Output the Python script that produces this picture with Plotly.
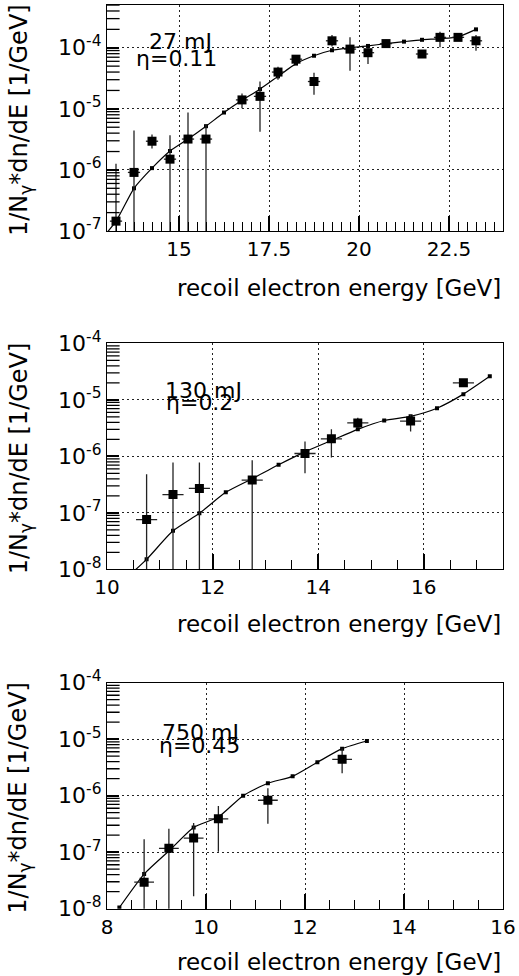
import math
import plotly.graph_objects as go

FONT = "DejaVu Sans"

# ---------------- Panel 1 : 27 mJ, eta = 0.11 ----------------
p1_energy = [13.25, 13.75, 14.25, 14.75, 15.25, 15.75, 16.75, 17.25, 17.75, 18.25,
             18.75, 19.25, 19.75, 20.25, 20.75, 21.75, 22.25, 22.75, 23.25]
p1_value = [1.45e-7, 9.1e-7, 2.95e-6, 1.5e-6, 3.2e-6, 3.2e-6, 1.4e-5, 1.6e-5, 4.0e-5, 6.5e-5,
            2.8e-5, 1.3e-4, 9.5e-5, 8.3e-5, 1.17e-4, 7.9e-5, 1.48e-4, 1.48e-4, 1.3e-4]
p1_high = [1.26e-6, 4.4e-6, 3.8e-6, 3.7e-6, 8.7e-6, 5.6e-6, 1.78e-5, 2.8e-5, 4.9e-5, 7.6e-5,
           3.9e-5, 1.62e-4, 1.48e-4, 9.8e-5, 1.35e-4, 8.9e-5, 1.82e-4, 1.62e-4, 1.62e-4]
p1_low = [1e-8, 1e-8, 2.24e-6, 1e-8, 1e-8, 1e-8, 1.02e-5, 4.2e-6, 3.0e-5, 5.5e-5,
          1.7e-5, 1.05e-4, 4.2e-5, 5.4e-5, 1.0e-4, 7.6e-5, 1.02e-4, 1.35e-4, 8.9e-5]
p1_curve_e = [12.75, 13.25, 13.75, 14.25, 14.75, 15.25, 15.75, 16.25, 16.75, 17.25, 17.75,
              18.25, 18.75, 19.25, 19.75, 20.25, 20.75, 21.25, 21.75, 22.25, 22.75, 23.25]
p1_curve_v = [6.3e-8, 1.45e-7, 5.0e-7, 1.07e-6, 2.04e-6, 3.2e-6, 5.2e-6, 8.7e-6, 1.38e-5, 2.1e-5, 3.4e-5,
              5.5e-5, 7.4e-5, 9.1e-5, 1.0e-4, 1.07e-4, 1.17e-4, 1.26e-4, 1.35e-4, 1.41e-4, 1.51e-4, 2.0e-4]

# ---------------- Panel 2 : 130 mJ, eta = 0.2 ----------------
p2_energy = [10.75, 11.25, 11.75, 12.75, 13.75, 14.25, 14.75, 15.75, 16.75]
p2_value = [7.6e-8, 2.1e-7, 2.7e-7, 3.8e-7, 1.12e-6, 2.04e-6, 3.9e-6, 4.2e-6, 2.0e-5]
p2_high = [4.8e-7, 7.8e-7, 7.8e-7, 8.5e-7, 1.82e-6, 3.0e-6, 4.8e-6, 5.4e-6, 2.24e-5]
p2_low = [1e-9, 1e-9, 1e-9, 1e-9, 5.0e-7, 9.5e-7, 3.2e-6, 2.75e-6, 1.74e-5]
p2_curve_e = [10.25, 10.75, 11.25, 11.75, 12.25, 12.75, 13.25, 13.75, 14.25, 14.75,
              15.25, 15.75, 16.25, 16.75, 17.25]
p2_curve_v = [5.6e-9, 1.5e-8, 4.8e-8, 9.8e-8, 2.3e-7, 4.0e-7, 7.1e-7, 1.2e-6, 1.9e-6, 3.0e-6,
              4.3e-6, 5.1e-6, 7.1e-6, 1.26e-5, 2.6e-5]

# ---------------- Panel 3 : 750 mJ, eta = 0.45 ----------------
p3_energy = [8.75, 9.25, 9.75, 10.25, 11.25, 12.75]
p3_value = [2.95e-8, 1.17e-7, 1.78e-7, 3.9e-7, 8.3e-7, 4.4e-6]
p3_high = [1.7e-7, 2.6e-7, 3.3e-7, 6.6e-7, 1.35e-6, 6.9e-6]
p3_low = [1e-9, 1e-9, 1.66e-8, 1.02e-7, 3.2e-7, 2.5e-6]
p3_curve_e = [8.25, 8.75, 9.25, 9.75, 10.25, 10.75, 11.25, 11.75, 12.25, 12.75, 13.25]
p3_curve_v = [1.05e-8, 4.1e-8, 1.05e-7, 2.75e-7, 4.2e-7, 1.0e-6, 1.66e-6, 2.2e-6, 3.9e-6, 6.8e-6, 9.3e-6]

# labels
energy_labels = ["27 mJ", "130 mJ", "750 mJ"]
eta_labels = ["\u03b7=0.11", "\u03b7=0.2", "\u03b7=0.45"]
x_title = "recoil electron energy [GeV]"
y_title = "1/N<sub>\u03b3</sub>*dn/dE [1/GeV]"

p1_yticks = [1e-7, 1e-6, 1e-5, 1e-4]
p1_yticktext = ["10<sup>-7</sup>", "10<sup>-6</sup>", "10<sup>-5</sup>", "10<sup>-4</sup>"]
p23_yticks = [1e-8, 1e-7, 1e-6, 1e-5, 1e-4]
p23_yticktext = ["10<sup>-8</sup>", "10<sup>-7</sup>", "10<sup>-6</sup>", "10<sup>-5</sup>", "10<sup>-4</sup>"]
minor_digits = [2, 3, 4, 5, 6, 7, 8, 9]

W, H = 519, 976
L, R = 107, 16

panels = [
    dict(e=p1_energy, v=p1_value, hi=p1_high, lo=p1_low, ce=p1_curve_e, cv=p1_curve_v,
         xr=[13, 24], yr=[-7, -3.3], dtick=2.5, mdtick=0.25, ex=0.17,
         top=5, bot=231, yt=p1_yticks, ytt=p1_yticktext, minor_dec=range(-7, -3),
         lab=(15.03, 10**-3.90, 14.94, 10**-4.17), xtitle_y=288),
    dict(e=p2_energy, v=p2_value, hi=p2_high, lo=p2_low, ce=p2_curve_e, cv=p2_curve_v,
         xr=[10, 17.5], yr=[-8, -4], dtick=2, mdtick=0.5, ex=0.2,
         top=343.3, bot=569.3, yt=p23_yticks, ytt=p23_yticktext, minor_dec=range(-8, -4),
         lab=(11.82, 10**-4.83, 11.76, 10**-5.05), xtitle_y=624),
    dict(e=p3_energy, v=p3_value, hi=p3_high, lo=p3_low, ce=p3_curve_e, cv=p3_curve_v,
         xr=[8, 16], yr=[-8, -4], dtick=2, mdtick=0.5, ex=0.2,
         top=682.7, bot=908.7, yt=p23_yticks, ytt=p23_yticktext, minor_dec=range(-8, -4),
         lab=(9.88, 10**-4.89, 9.86, 10**-5.11), xtitle_y=962),
]

fig = go.Figure()
layout = dict(
    template="none",
    width=W, height=H,
    margin=dict(l=L, r=R, t=0, b=0, pad=0, autoexpand=False),
    paper_bgcolor="white", plot_bgcolor="white",
    showlegend=False,
    font=dict(family=FONT, size=20, color="black"),
)
annotations = []

for i, p in enumerate(panels, start=1):
    xa = "x" if i == 1 else f"x{i}"
    ya = "y" if i == 1 else f"y{i}"
    # fitted / simulated curve
    fig.add_trace(go.Scatter(
        x=p["ce"], y=p["cv"], mode="lines+markers",
        line=dict(color="black", width=1.2, shape="spline", smoothing=0.6),
        marker=dict(symbol="square", size=4, color="black"),
        xaxis=xa, yaxis=ya))
    # measured points
    v = p["v"]
    fig.add_trace(go.Scatter(
        x=p["e"], y=v, mode="markers",
        marker=dict(symbol="square", size=9, color="black"),
        error_y=dict(type="data", symmetric=False,
                     array=[h - y for h, y in zip(p["hi"], v)],
                     arrayminus=[y - l for l, y in zip(p["lo"], v)],
                     color="#222", thickness=1.3, width=0),
        error_x=dict(type="constant", value=p["ex"], color="#222", thickness=1.3, width=0),
        xaxis=xa, yaxis=ya))

    # logarithmic minor ticks on the left frame edge (half of each dash clipped away)
    minor_vals = [k * 10.0 ** d for d in p["minor_dec"] for k in minor_digits
                  if p["yr"][0] < math.log10(k * 10.0 ** d) < p["yr"][1]]
    fig.add_trace(go.Scatter(
        x=[p["xr"][0]] * len(minor_vals), y=minor_vals, mode="markers",
        marker=dict(symbol="line-ew", size=18, line=dict(color="black", width=1.3)),
        cliponaxis=True, hoverinfo="skip", xaxis=xa, yaxis=ya))

    y0 = 1 - p["bot"] / H
    y1 = 1 - p["top"] / H
    layout["xaxis" if i == 1 else f"xaxis{i}"] = dict(
        domain=[0, 1], anchor=ya, range=p["xr"], tick0=0, dtick=p["dtick"],
        ticks="inside", ticklen=15, tickwidth=1.5, tickcolor="black",
        showline=True, linecolor="black", linewidth=1.3, mirror=True,
        showgrid=True, gridcolor="#222", griddash="2px,3px", gridwidth=1,
        zeroline=False, automargin=False,
        tickfont=dict(family=FONT, size=20),
        minor=dict(dtick=p["mdtick"], tick0=0, ticks="inside", ticklen=9,
                   tickwidth=1.3, tickcolor="black", showgrid=False),
    )
    layout["yaxis" if i == 1 else f"yaxis{i}"] = dict(
        domain=[y0, y1], anchor=xa, type="log", range=p["yr"],
        tickmode="array", tickvals=p["yt"], ticktext=p["ytt"],
        ticks="inside", ticklen=12, tickwidth=1.5, tickcolor="black",
        showline=True, linecolor="black", linewidth=1.3, mirror=True,
        showgrid=True, gridcolor="#222", griddash="2px,3px", gridwidth=1,
        zeroline=False, automargin=False,
        tickfont=dict(family=FONT, size=22),
    )
    lx1, ly1, lx2, ly2 = p["lab"]
    annotations.append(dict(x=lx1, y=math.log10(ly1),
                            xref=xa, yref=ya, text=energy_labels[i - 1], showarrow=False,
                            font=dict(family=FONT, size=22), xanchor="center", yanchor="middle"))
    annotations.append(dict(x=lx2, y=math.log10(ly2),
                            xref=xa, yref=ya, text=eta_labels[i - 1], showarrow=False,
                            font=dict(family=FONT, size=22), xanchor="center", yanchor="middle"))
    # axis titles
    annotations.append(dict(x=1.0, y=1 - p["xtitle_y"] / H, xref="paper", yref="paper",
                            text=x_title, showarrow=False, xanchor="right", yanchor="middle",
                            font=dict(family=FONT, size=23)))
    annotations.append(dict(x=(20 - L) / (W - L - R), y=(1 - (p["top"] + p["bot"] + 4) / 2 / H),
                            xref="paper", yref="paper",
                            text=y_title, showarrow=False, textangle=-90,
                            xanchor="center", yanchor="middle",
                            font=dict(family=FONT, size=24)))

layout["annotations"] = annotations
fig.update_layout(**layout)
fig.write_html("out.html", config={"displayModeBar": False},
               post_script="document.body.style.margin='0';document.body.style.padding='0';")
